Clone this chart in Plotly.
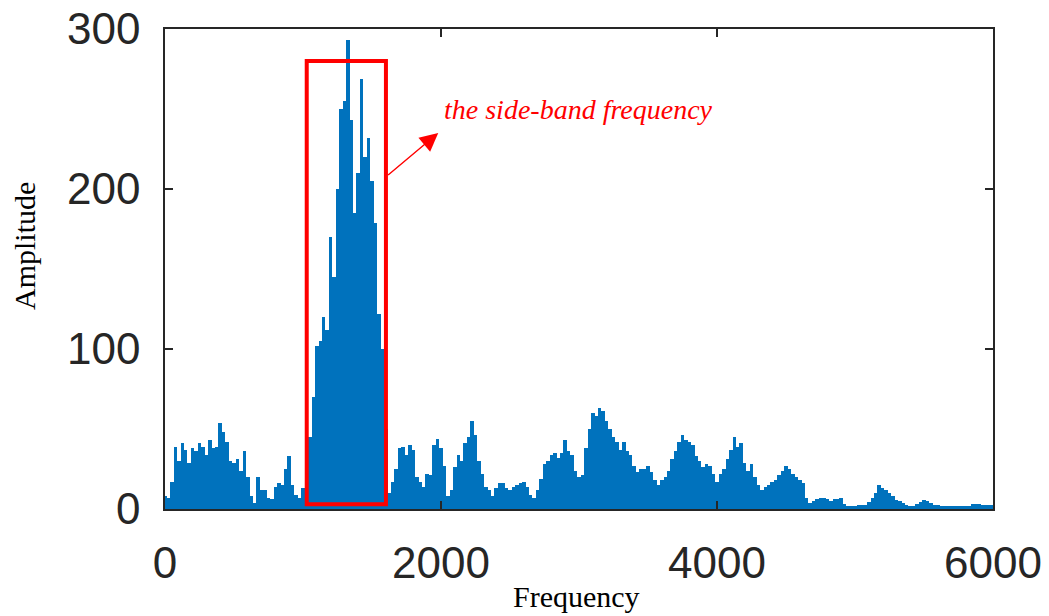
import plotly.graph_objects as go

# Frequency bins (Hz), 25 Hz spacing
freq_step = 25
frequency = [i * freq_step for i in range(241)]

amplitude = [
    8, 7, 17, 39, 30, 41, 37, 29, 38, 36, 41, 39, 34, 43, 38, 39, 54, 48, 42, 30,
    29, 31, 24, 36, 20, 8, 4, 20, 12, 12, 7, 6, 14, 16, 15, 25, 33, 15, 9, 7,
    13, 25, 45, 70, 102, 105, 120, 112, 170, 145, 200, 250, 255, 293, 243, 185, 210, 269, 220, 232,
    205, 179, 122, 100, 50, 10, 17, 25, 38, 39, 34, 40, 37, 20, 17, 14, 22, 21, 40, 44,
    38, 27, 8, 12, 26, 34, 30, 41, 45, 55, 46, 30, 22, 14, 12, 8, 13, 16, 16, 13,
    12, 14, 15, 16, 17, 14, 9, 7, 12, 19, 28, 30, 34, 35, 32, 35, 43, 36, 34, 24,
    20, 21, 38, 50, 60, 58, 63, 61, 55, 50, 45, 42, 37, 42, 36, 34, 27, 23, 25, 25,
    27, 23, 18, 15, 18, 20, 24, 31, 36, 42, 46, 43, 42, 40, 33, 30, 26, 28, 27, 22,
    17, 22, 25, 31, 37, 45, 39, 41, 29, 24, 28, 20, 15, 12, 14, 15, 17, 18, 21, 24,
    27, 25, 22, 20, 18, 16, 7, 4, 5, 6, 7, 7, 6, 5, 6, 6, 7, 3, 2, 2,
    2, 2.5, 2.5, 2.5, 4.6, 6.7, 10, 15, 13, 12, 10, 8, 5.6, 5, 4, 2.5, 2, 2, 3, 4.6,
    5.6, 5, 3.5, 2.5, 2.5, 2, 2, 2, 2, 2, 2, 2, 2, 2, 3, 3, 3, 2.5, 2.5, 2.5,
    2.5,
]
assert len(amplitude) == len(frequency)

x_ticks = [0, 2000, 4000, 6000]
y_ticks = [0, 100, 200, 300]

# Highlight box for side-band region
band_x = [1027, 1601]
band_y = [3, 280]
annotation_text = "the side-band frequency"

AX = "#262626"
BLUE = "#0072BD"

fig = go.Figure()
fig.add_trace(go.Bar(
    x=frequency, y=amplitude, width=freq_step,
    marker=dict(color=BLUE, line=dict(width=0)),
    hoverinfo="x+y",
))

fig.add_shape(type="rect", xref="x", yref="y",
              x0=band_x[0], x1=band_x[1], y0=band_y[0], y1=band_y[1],
              line=dict(color="#FF0000", width=4), fillcolor="rgba(0,0,0,0)")

fig.add_annotation(x=1980, y=235, ax=1606, ay=208, xref="x", yref="y",
                   axref="x", ayref="y", text="", showarrow=True,
                   arrowhead=2, arrowsize=2.6, arrowwidth=1.4, arrowcolor="#FF0000")
fig.add_annotation(x=2010, y=250, xref="x", yref="y", text=annotation_text,
                   showarrow=False, xanchor="left", yanchor="middle",
                   font=dict(family="Liberation Serif, Times New Roman, serif",
                             size=28, color="#FF0000", style="italic"))

fig.add_annotation(x=0.497, y=-0.183, xref="paper", yref="paper", text="Frequency",
                   showarrow=False, xanchor="center", yanchor="middle",
                   font=dict(family="Liberation Serif, Times New Roman, serif", size=30, color="#000000"))
fig.add_annotation(x=-0.169, y=0.548, xref="paper", yref="paper", text="Amplitude",
                   showarrow=False, xanchor="center", yanchor="middle", textangle=-90,
                   font=dict(family="Liberation Serif, Times New Roman, serif", size=30, color="#000000"))

tickfont = dict(family="Liberation Sans, Arial, sans-serif", size=44, color=AX)
fig.update_xaxes(range=[0, 6000], tickvals=x_ticks, ticktext=[str(v) for v in x_ticks],
                 ticks="inside", ticklen=8, tickcolor=AX, tickwidth=1.5,
                 showline=True, linecolor=AX, linewidth=1.5, mirror="ticks",
                 showgrid=False, zeroline=False, tickfont=tickfont, ticklabelstandoff=14)
fig.update_yaxes(range=[0, 300], tickvals=y_ticks, ticktext=[str(v) for v in y_ticks],
                 ticks="inside", ticklen=8, tickcolor=AX, tickwidth=1.5,
                 showline=True, linecolor=AX, linewidth=1.5, mirror="ticks",
                 showgrid=False, zeroline=False, tickfont=tickfont, ticklabelstandoff=14)

fig.update_layout(width=1049, height=616, margin=dict(l=165, r=56, t=29, b=107, autoexpand=False),
                  plot_bgcolor="white", paper_bgcolor="white", bargap=0, showlegend=False)

fig.write_html("out.html")
